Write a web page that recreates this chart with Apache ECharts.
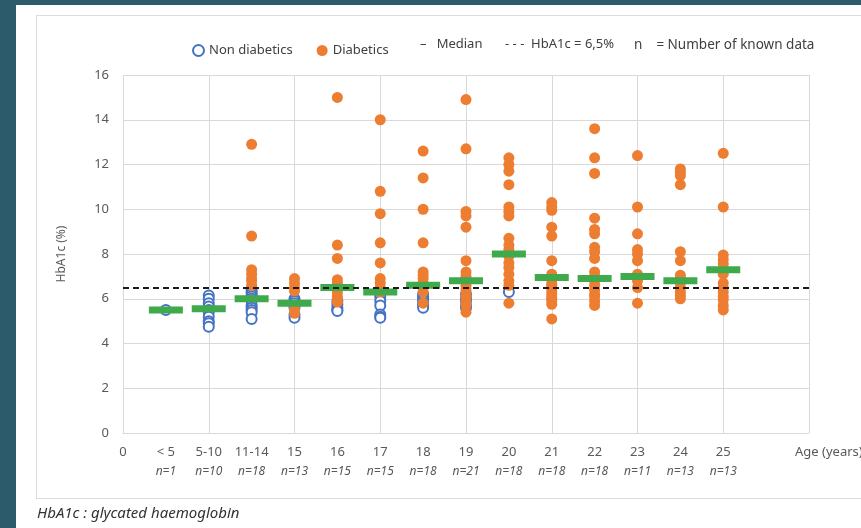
<!DOCTYPE html>
<html>
<head>
<meta charset="utf-8">
<script src="https://cdn.jsdelivr.net/npm/echarts@6/dist/echarts.min.js"></script>
<style>
  html, body { margin: 0; padding: 0; width: 861px; height: 528px; overflow: hidden; background: #2c5b6b; }
  #panel { position: absolute; left: 16px; top: 5px; width: 845px; height: 523px; background: #ffffff; }
  #frame { position: absolute; left: 36px; top: 15px; width: 840px; height: 484px; border: 1px solid #dcdcdc; box-sizing: border-box; }
  #chart { position: absolute; left: 0; top: 0; width: 861px; height: 528px; }
</style>
</head>
<body>
<div id="panel"></div>
<div id="frame"></div>
<div id="chart"></div>
<script>
// Age groups along the x axis and number of known HbA1c values per group
const ageGroups = ['< 5', '5-10', '11-14', '15', '16', '17', '18', '19', '20', '21', '22', '23', '24', '25'];
const knownCounts = [1, 10, 18, 13, 15, 15, 18, 21, 18, 18, 18, 11, 13, 13];

// HbA1c (%) per patient, one list per age group
const nonDiabetic = [
  [5.5],
  [6.15, 6.0, 5.8, 5.65, 5.5, 5.4, 5.2, 5.0, 4.9, 4.75],
  [6.4, 6.3, 6.2, 6.1, 6.0, 5.9, 5.7, 5.6, 5.5, 5.4, 5.1],
  [6.0, 5.9, 5.8, 5.7, 5.6, 5.3, 5.15],
  [5.9, 5.75, 5.6, 5.5, 5.45],
  [6.1, 5.9, 5.7, 5.3, 5.2, 5.15],
  [6.2, 6.1, 6.0, 5.9, 5.8, 5.7, 5.6],
  [6.2, 6.0, 5.9, 5.7, 5.6],
  [6.3],
  [], [], [], [], []
];
const diabetic = [
  [],
  [],
  [12.9, 8.8, 7.3, 7.1, 6.9, 6.8, 6.6],
  [6.9, 6.7, 6.5, 6.35, 5.55, 5.35],
  [15.0, 8.4, 7.8, 6.85, 6.7, 6.5, 6.3, 6.1, 6.0, 5.85],
  [14.0, 10.8, 9.8, 8.5, 7.6, 6.9, 6.7, 6.5, 6.3],
  [12.6, 11.4, 10.0, 8.5, 7.2, 7.05, 6.9, 6.7, 6.5, 6.3, 5.8],
  [14.9, 12.7, 9.9, 9.7, 9.2, 7.7, 7.2, 7.0, 6.8, 6.6, 6.45, 6.3, 6.1, 5.9, 5.7, 5.4],
  [12.3, 12.0, 11.7, 11.1, 10.1, 9.9, 9.7, 8.7, 8.4, 8.2, 7.9, 7.6, 7.4, 7.1, 6.8, 6.6, 5.8],
  [10.3, 10.1, 9.95, 9.2, 8.8, 7.7, 7.1, 6.9, 6.7, 6.6, 6.5, 6.35, 6.2, 6.05, 6.0, 5.9, 5.75, 5.1],
  [13.6, 12.3, 11.6, 9.6, 9.1, 8.9, 8.3, 8.1, 7.8, 7.2, 7.0, 6.8, 6.6, 6.4, 6.2, 6.1, 5.9, 5.7],
  [12.4, 10.1, 8.9, 8.2, 8.0, 7.7, 7.1, 7.0, 6.8, 6.5, 5.8],
  [11.8, 11.65, 11.5, 11.1, 8.1, 7.7, 7.05, 6.9, 6.7, 6.5, 6.3, 6.15, 6.0],
  [12.5, 10.1, 7.95, 7.75, 7.55, 7.1, 6.7, 6.5, 6.3, 6.1, 5.95, 5.7, 5.5]
];
const medians = [5.5, 5.55, 6.0, 5.8, 6.5, 6.3, 6.6, 6.8, 8.0, 6.95, 6.9, 7.0, 6.8, 7.3];
const threshold = 6.5;

// x axis: "0" at the origin, the age groups, then two empty slots up to the right edge
const xCategories = ['0'].concat(ageGroups, ['', '']);
const countLabels = [''].concat(knownCounts.map(n => 'n=' + n), ['', '']);

function toPoints(groups) {
  const pts = [];
  groups.forEach((vals, i) => vals.forEach(v => pts.push([i + 1, v])));
  return pts;
}
const medianPoints = medians.map((v, i) => [i + 1, v]);

const FONT = 'Noto Sans';
const chart = echarts.init(document.getElementById('chart'), null, { renderer: 'canvas' });

chart.setOption({
  backgroundColor: 'transparent',
  animation: false,
  textStyle: { fontFamily: FONT },
  grid: { left: 123, right: 52, top: 75, bottom: 95 },
  legend: {
    left: 187, top: 39,
    itemWidth: 11, itemHeight: 11, itemGap: 24,
    textStyle: { fontFamily: FONT, fontSize: 13, color: '#404040' },
    data: ['Non diabetics', 'Diabetics']
  },
  xAxis: {
    type: 'category',
    data: xCategories,
    boundaryGap: false,
    axisLine: { show: true, lineStyle: { color: '#d9d9d9', width: 1 } },
    axisTick: { show: false },
    splitLine: {
      show: true,
      interval: (index) => index % 2 === 0,
      lineStyle: { color: '#d9d9d9', width: 1 }
    },
    axisLabel: {
      interval: 0,
      margin: 9,
      formatter: (value, index) => {
        const n = countLabels[index];
        return '{a|' + value + '}' + (n ? '\n{n|' + n + '}' : '\n{n| }');
      },
      rich: {
        a: { fontFamily: FONT, fontSize: 13, color: '#595959', lineHeight: 20 },
        n: { fontFamily: FONT, fontSize: 12, fontStyle: 'italic', color: '#595959', lineHeight: 20 }
      }
    }
  },
  yAxis: {
    type: 'value',
    min: 0, max: 16, interval: 2,
    name: 'HbA1c (%)',
    nameLocation: 'middle',
    nameGap: 55,
    nameRotate: 90,
    nameTextStyle: { fontFamily: FONT, fontSize: 12, color: '#595959' },
    axisLine: { show: false },
    axisTick: { show: false },
    splitLine: { show: true, lineStyle: { color: '#d9d9d9', width: 1 } },
    axisLabel: { margin: 14, fontFamily: FONT, fontSize: 13, color: '#595959' }
  },
  series: [
    {
      name: 'Non diabetics',
      type: 'scatter',
      symbol: 'emptyCircle',
      symbolSize: 10,
      itemStyle: { color: '#4472C4', borderColor: '#4472C4', borderWidth: 2, opacity: 1 },
      data: toPoints(nonDiabetic),
      z: 2
    },
    {
      name: 'Diabetics',
      type: 'scatter',
      symbol: 'circle',
      symbolSize: 11,
      itemStyle: { color: '#ED7D31', opacity: 1 },
      data: toPoints(diabetic),
      z: 3
    },
    {
      name: 'Median',
      type: 'scatter',
      symbol: 'rect',
      symbolSize: [34, 7],
      itemStyle: { color: '#3FAA4C', opacity: 1 },
      data: medianPoints,
      z: 4
    },
    {
      name: 'HbA1c = 6,5%',
      type: 'scatter',
      data: [],
      z: 5,
      markLine: {
        silent: true,
        symbol: 'none',
        label: { show: false },
        lineStyle: { color: '#1a1a1a', type: [6, 4], width: 2, opacity: 1 },
        data: [{ yAxis: threshold }]
      }
    }
  ],
  graphic: [
    { type: 'text', left: 420, top: 38, style: { text: '–   Median', fontFamily: FONT, fontSize: 13, fill: '#404040' } },
    { type: 'text', left: 505, top: 38, style: { text: '- - -  HbA1c = 6,5%', fontFamily: FONT, fontSize: 13, fill: '#404040' } },
    { type: 'text', left: 634, top: 38, style: { text: 'n    = Number of known data', fontFamily: FONT, fontSize: 13.5, fill: '#404040' } },
    { type: 'text', left: 795, top: 446, style: { text: 'Age (years)', fontFamily: FONT, fontSize: 13, fill: '#595959' } },
    { type: 'text', left: 37, top: 506, style: { text: 'HbA1c : glycated haemoglobin', fontFamily: FONT, fontSize: 15, fontStyle: 'italic', fill: '#333333' } }
  ]
});
</script>
</body>
</html>
